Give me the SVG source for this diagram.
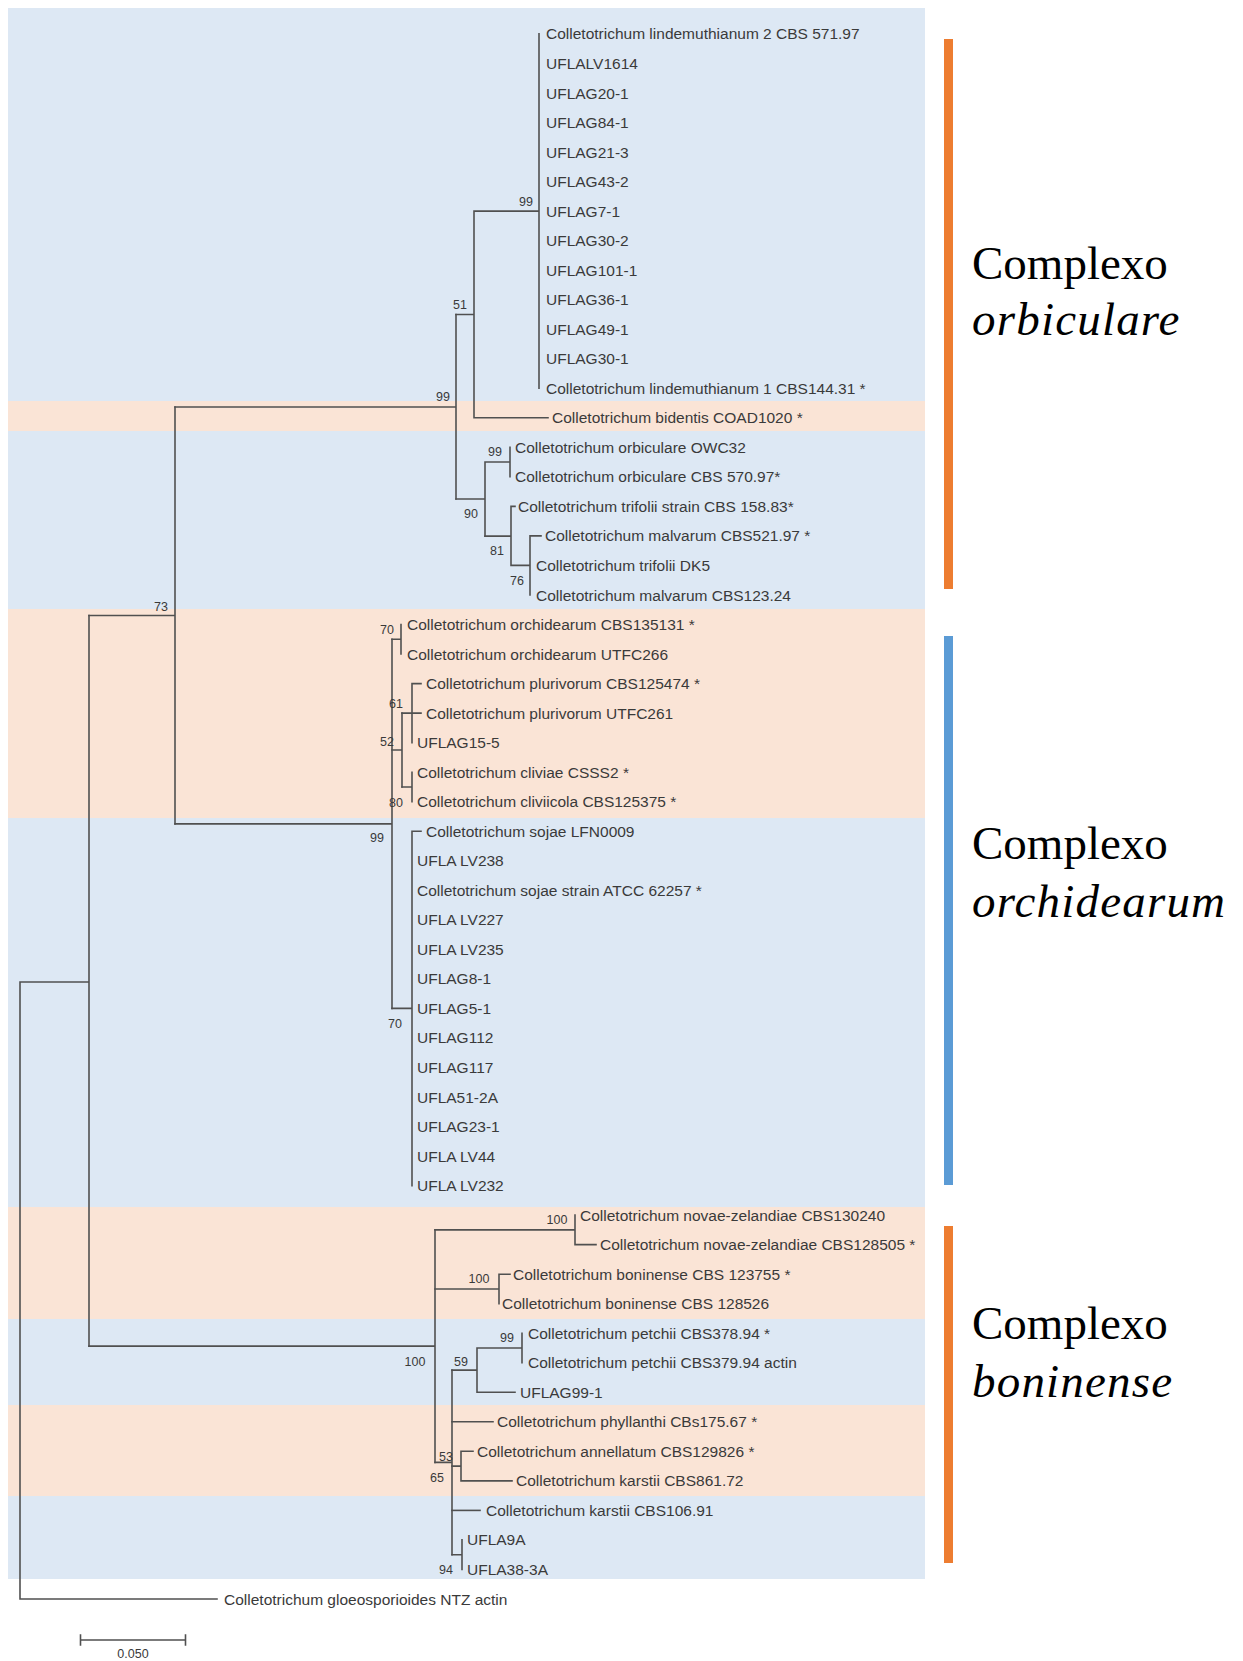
<svg xmlns="http://www.w3.org/2000/svg" width="1243" height="1661" viewBox="0 0 1243 1661">
<defs>
<style>
.bl{fill:#dde8f4}
.pk{fill:#fae4d6}
.br{stroke:#505050;stroke-width:1.6;fill:none;stroke-linecap:square}
.lf{font-family:"Liberation Sans",Arial,sans-serif;font-size:15.5px;fill:#3a3a3a}
.bs{font-family:"Liberation Sans",Arial,sans-serif;font-size:12.5px;fill:#3a3a3a;text-anchor:middle}
.cx{font-family:"Liberation Serif","Times New Roman",serif;font-size:47px;fill:#000}
.it{font-style:italic;letter-spacing:1.2px}
</style>
</defs>
<rect width="1243" height="1661" fill="#ffffff"/>
<g id="bands">
<rect class="bl" x="8" y="8" width="917" height="393"/>
<rect class="pk" x="8" y="401" width="917" height="30"/>
<rect class="bl" x="8" y="431" width="917" height="178"/>
<rect class="pk" x="8" y="609" width="917" height="209"/>
<rect class="bl" x="8" y="818" width="917" height="389"/>
<rect class="pk" x="8" y="1207" width="917" height="112"/>
<rect class="bl" x="8" y="1319" width="917" height="86"/>
<rect class="pk" x="8" y="1405" width="917" height="91"/>
<rect class="bl" x="8" y="1496" width="917" height="83"/>
</g>
<g id="connectors" class="br">
<path d="M20,982V1599H217M20,982H89M89,615.5V1346.1"/>
<path d="M89,615.5H175M175,407V823.9"/>
<path d="M175,407H456M456,314.5V499"/>
<path d="M456,314.5H474M474,211.1V417.8H548M474,211.1H539M539,33.9V388.3"/>
<path d="M456,499H485M485,462V536.1M485,462H510M510,447.3V476.8"/>
<path d="M485,536.1H511M511,506.4V565.4M511,506.4H515M511,565.4H530M530,535.9V595M530,535.9H541"/>
<path d="M175,823.9H392M392,639.3V1008.4"/>
<path d="M392,639.3H401M401,624.5V654"/>
<path d="M392,750H402M402,713.1V787"/>
<path d="M402,713.1H412M412,683.6V742.6M412,683.6H421M412,713.1H421"/>
<path d="M402,787H412M412,772.2V801.7"/>
<path d="M392,1008.4H412M412,831.2V1185.6M412,831.2H421"/>
<path d="M89,1346.1H435M435,1229.9V1462.4"/>
<path d="M435,1229.9H575M575,1215.1V1244.6H596"/>
<path d="M435,1289H499M499,1274.2V1303.7M499,1274.2H510"/>
<path d="M435,1462.4H452M452,1370.1V1554.7"/>
<path d="M452,1370.1H477M477,1348V1392.3H515M477,1348H522M522,1333.2V1362.8"/>
<path d="M452,1421.8H493"/>
<path d="M452,1466.1H461M461,1451.3V1480.9H512M461,1451.3H473"/>
<path d="M452,1510.4H480"/>
<path d="M452,1554.7H462M462,1539.9V1569.5"/>
</g>
<g id="leaves" class="lf">
<text x="546" y="39.4">Colletotrichum lindemuthianum 2 CBS 571.97</text>
<text x="546" y="68.9">UFLALV1614</text>
<text x="546" y="98.5">UFLAG20-1</text>
<text x="546" y="128">UFLAG84-1</text>
<text x="546" y="157.5">UFLAG21-3</text>
<text x="546" y="187.1">UFLAG43-2</text>
<text x="546" y="216.6">UFLAG7-1</text>
<text x="546" y="246.1">UFLAG30-2</text>
<text x="546" y="275.6">UFLAG101-1</text>
<text x="546" y="305.2">UFLAG36-1</text>
<text x="546" y="334.7">UFLAG49-1</text>
<text x="546" y="364.2">UFLAG30-1</text>
<text x="546" y="393.8">Colletotrichum lindemuthianum 1 CBS144.31 *</text>
<text x="552" y="423.3">Colletotrichum bidentis COAD1020 *</text>
<text x="515" y="452.8">Colletotrichum orbiculare OWC32</text>
<text x="515" y="482.3">Colletotrichum orbiculare CBS 570.97*</text>
<text x="518" y="511.9">Colletotrichum trifolii strain CBS 158.83*</text>
<text x="545" y="541.4">Colletotrichum malvarum CBS521.97 *</text>
<text x="536" y="570.9">Colletotrichum trifolii DK5</text>
<text x="536" y="600.5">Colletotrichum malvarum CBS123.24</text>
<text x="407" y="630">Colletotrichum orchidearum CBS135131 *</text>
<text x="407" y="659.5">Colletotrichum orchidearum UTFC266</text>
<text x="426" y="689.1">Colletotrichum plurivorum CBS125474 *</text>
<text x="426" y="718.6">Colletotrichum plurivorum UTFC261</text>
<text x="417" y="748.1">UFLAG15-5</text>
<text x="417" y="777.7">Colletotrichum cliviae CSSS2 *</text>
<text x="417" y="807.2">Colletotrichum cliviicola CBS125375 *</text>
<text x="426" y="836.7">Colletotrichum sojae LFN0009</text>
<text x="417" y="866.2">UFLA LV238</text>
<text x="417" y="895.8">Colletotrichum sojae strain ATCC 62257 *</text>
<text x="417" y="925.3">UFLA LV227</text>
<text x="417" y="954.8">UFLA LV235</text>
<text x="417" y="984.4">UFLAG8-1</text>
<text x="417" y="1013.9">UFLAG5-1</text>
<text x="417" y="1043.4">UFLAG112</text>
<text x="417" y="1073">UFLAG117</text>
<text x="417" y="1102.5">UFLA51-2A</text>
<text x="417" y="1132">UFLAG23-1</text>
<text x="417" y="1161.5">UFLA LV44</text>
<text x="417" y="1191.1">UFLA LV232</text>
<text x="580" y="1220.6">Colletotrichum novae-zelandiae CBS130240</text>
<text x="600" y="1250.1">Colletotrichum novae-zelandiae CBS128505 *</text>
<text x="513" y="1279.7">Colletotrichum boninense CBS 123755 *</text>
<text x="502" y="1309.2">Colletotrichum boninense CBS 128526</text>
<text x="528" y="1338.7">Colletotrichum petchii CBS378.94 *</text>
<text x="528" y="1368.3">Colletotrichum petchii CBS379.94 actin</text>
<text x="520" y="1397.8">UFLAG99-1</text>
<text x="497" y="1427.3">Colletotrichum phyllanthi CBs175.67 *</text>
<text x="477" y="1456.8">Colletotrichum annellatum CBS129826 *</text>
<text x="516" y="1486.4">Colletotrichum karstii CBS861.72</text>
<text x="486" y="1515.9">Colletotrichum karstii CBS106.91</text>
<text x="467" y="1545.4">UFLA9A</text>
<text x="467" y="1575">UFLA38-3A</text>
<text x="224" y="1604.5">Colletotrichum gloeosporioides NTZ actin</text>
</g>
<g id="bootstrap" class="bs">
<text x="526" y="205.5">99</text>
<text x="460" y="308.5">51</text>
<text x="443" y="400.5">99</text>
<text x="495" y="455.5">99</text>
<text x="471" y="517.5">90</text>
<text x="497" y="554.5">81</text>
<text x="517" y="584.5">76</text>
<text x="161" y="610.5">73</text>
<text x="387" y="633.5">70</text>
<text x="396" y="707.5">61</text>
<text x="387" y="745.5">52</text>
<text x="396" y="806.5">80</text>
<text x="377" y="841.5">99</text>
<text x="395" y="1027.5">70</text>
<text x="557" y="1223.5">100</text>
<text x="479" y="1282.5">100</text>
<text x="415" y="1365.5">100</text>
<text x="507" y="1341.5">99</text>
<text x="461" y="1365.5">59</text>
<text x="446" y="1460.5">53</text>
<text x="437" y="1481.5">65</text>
<text x="446" y="1573.5">94</text>
</g>
<g id="scalebar">
<path class="br" d="M80.5,1640H185.5M80.5,1635V1645M185.5,1635V1645"/>
<text class="bs" x="133" y="1658">0.050</text>
</g>
<g id="complex-orbiculare">
<rect x="944" y="39" width="9" height="550" fill="#ed7d31"/>
<text class="cx" x="972" y="279">Complexo</text>
<text class="cx it" x="972" y="335">orbiculare</text>
</g>
<g id="complex-orchidearum">
<rect x="944" y="636" width="9" height="549" fill="#5b9bd5"/>
<text class="cx" x="972" y="859">Complexo</text>
<text class="cx it" x="972" y="917">orchidearum</text>
</g>
<g id="complex-boninense">
<rect x="944" y="1226" width="9" height="337" fill="#ed7d31"/>
<text class="cx" x="972" y="1339">Complexo</text>
<text class="cx it" x="972" y="1397">boninense</text>
</g>
</svg>
